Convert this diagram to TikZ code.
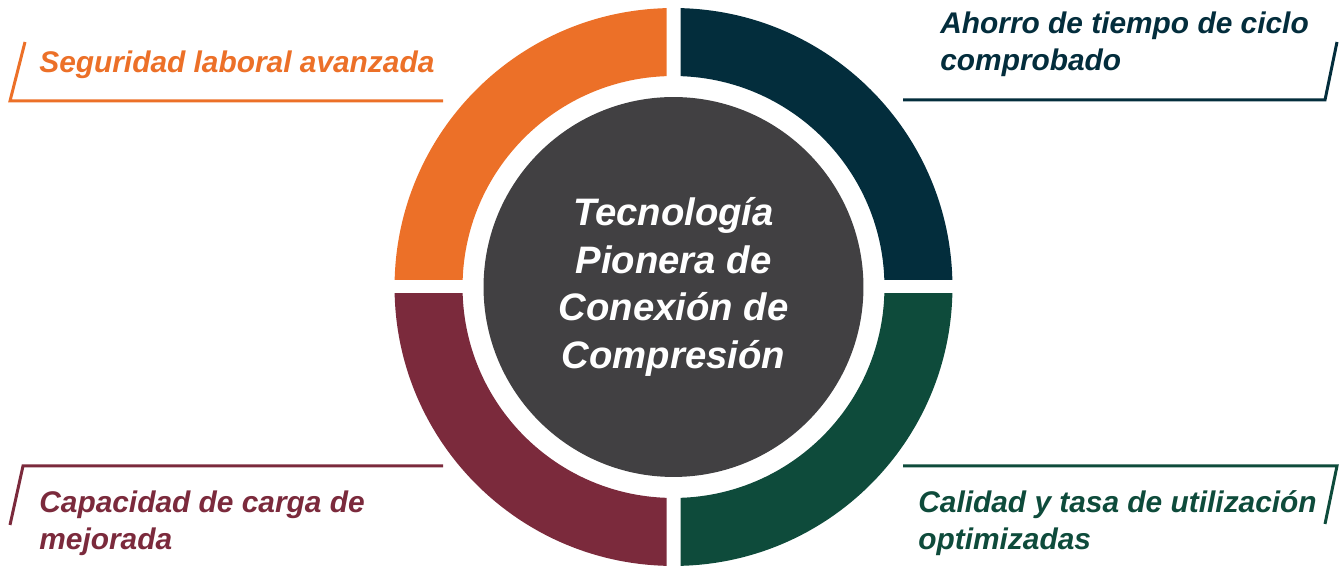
\documentclass[tikz,border=0pt]{standalone}
\usepackage{fontspec}
\setmainfont{Liberation Sans}
\usepackage{xcolor}

\definecolor{segorange}{HTML}{EC7028}
\definecolor{ahorronavy}{HTML}{032D3C}
\definecolor{cargamaroon}{HTML}{7B2A3C}
\definecolor{calidadgreen}{HTML}{0E4B3B}
\definecolor{coregrey}{HTML}{414042}

\tikzset{
  itemtext/.style={font=\fontsize{17}{21.6}\selectfont\bfseries\itshape, inner sep=0pt, align=left, anchor=base west},
  itemline/.style={line width=1.7pt},
  ring/.style={even odd rule},
}

\begin{document}
\begin{tikzpicture}[x=0.02cm,y=0.02cm]
\useasboundingbox (0,0) rectangle (1340,567);

% four quarters of the ring
\begin{scope}
\clip (680.5,287) rectangle ++(300,300);
\fill[ring, ahorronavy] (673.5,280) circle [radius=5.58cm] circle [radius=4.22cm];
\end{scope}
\begin{scope}
\clip (666.5,287) rectangle ++(-300,300);
\fill[ring, segorange] (673.5,280) circle [radius=5.58cm] circle [radius=4.22cm];
\end{scope}
\begin{scope}
\clip (666.5,273) rectangle ++(-300,-300);
\fill[ring, cargamaroon] (673.5,280) circle [radius=5.58cm] circle [radius=4.22cm];
\end{scope}
\begin{scope}
\clip (680.5,273) rectangle ++(300,-300);
\fill[ring, calidadgreen] (673.5,280) circle [radius=5.58cm] circle [radius=4.22cm];
\end{scope}

% centre
\node (core) [circle, fill=coregrey, minimum size=7.6cm, inner sep=0pt, text=white, align=center,
  font=\fontsize{21.8}{27.2}\selectfont\bfseries\itshape] at (673.5,280)
  {Tecnología\\Pionera de\\Conexión de\\Compresión};

% labels (base of a two-line node is its last line)
\node (seguridad) [itemtext, text=segorange] at (39,494) {Seguridad laboral avanzada};
\draw[itemline, segorange] (25,525) -- (10,466) -- (443,466);

\node (ahorro) [itemtext, text=ahorronavy] at (940,496) {Ahorro de tiempo de ciclo\\comprobado};
\draw[itemline, ahorronavy] (903,467) -- (1325,467) -- (1337,525);

\node (carga) [itemtext, text=cargamaroon] at (39,17) {Capacidad de carga de\\mejorada};
\draw[itemline, cargamaroon] (443,101) -- (23,101) -- (10,42);

\node (calidad) [itemtext, text=calidadgreen] at (918,17) {Calidad y tasa de utilización\\optimizadas};
\draw[itemline, calidadgreen] (903,101) -- (1337,101) -- (1325,43);
\end{tikzpicture}
\end{document}
